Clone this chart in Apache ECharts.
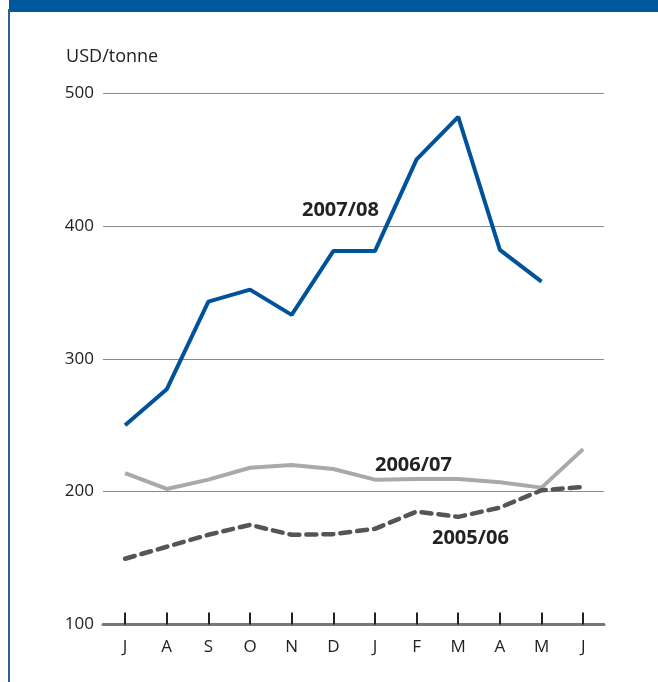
<!DOCTYPE html>
<html>
<head>
<meta charset="utf-8">
<script src="https://cdn.jsdelivr.net/npm/echarts@6/dist/echarts.min.js"></script>
<style>
  html, body { margin: 0; padding: 0; background: #fff; }
  #chart { width: 658px; height: 682px; }
</style>
</head>
<body>
<div id="chart"></div>
<script>
// months July..June
const months = ['J', 'A', 'S', 'O', 'N', 'D', 'J', 'F', 'M', 'A', 'M', 'J']
const s0708 = [250, 277, 343, 352, 333, 381, 381, 450, 482, 382, 358, null]
const s0607 = [214, 202, 209, 218, 220, 217, 209, 209.5, 209.5, 207, 203, 232]
const s0506 = [149.5, 158.5, 167.5, 175, 167.5, 168, 172, 185, 181, 188, 201, 203.5]
const yTicks = [100, 200, 300, 400, 500]

const toPairs = arr => arr.map((v, i) => [i, v])
const idx = months.map((m, i) => i)

const chartDom = document.getElementById('chart')
const myChart = echarts.init(chartDom)
const font = 'Open Sans'

const option = {
  animation: false,
  textStyle: { fontFamily: font },
  grid: { left: 103, right: 54, top: 93, bottom: 57.5 },
  xAxis: {
    type: 'value',
    min: -0.53,
    max: 11.5,
    splitLine: { show: false },
    axisLine: { show: true, onZero: false, lineStyle: { color: '#777', width: 3 } },
    axisTick: { show: true, inside: true, length: 12, customValues: idx, lineStyle: { color: '#222', width: 2 } },
    axisLabel: {
      customValues: idx,
      formatter: v => months[v],
      color: '#222', fontSize: 17, margin: 14, fontFamily: font
    }
  },
  yAxis: {
    type: 'value',
    min: 100,
    max: 500,
    interval: 100,
    name: 'USD/tonne',
    nameLocation: 'end',
    nameGap: 27,
    nameTextStyle: { color: '#222', fontSize: 18, align: 'left', padding: [0, 0, 0, -59], fontFamily: font },
    axisLine: { show: false },
    axisTick: { show: false },
    axisLabel: { color: '#222', fontSize: 17, margin: 9, fontFamily: font,
      formatter: v => yTicks.includes(v) ? String(v) : '' },
    splitLine: { show: true, lineStyle: { color: '#8a8a8a', width: 1 } }
  },
  series: [
    {
      name: '2005/06', type: 'line', data: toPairs(s0506), symbol: 'none',
      lineStyle: { color: '#555', width: 4.5, type: [10, 7], cap: 'round' }, z: 3
    },
    {
      name: '2006/07', type: 'line', data: toPairs(s0607), symbol: 'none',
      lineStyle: { color: '#a9a9a9', width: 4 }, z: 2
    },
    {
      name: '2007/08', type: 'line', data: toPairs(s0708), symbol: 'none',
      lineStyle: { color: '#00529b', width: 4 }, z: 4
    }
  ],
  graphic: [
    { type: 'rect', left: 9, top: 0, shape: { width: 649, height: 12 }, style: { fill: '#00579b' } },
    { type: 'rect', left: 8, top: 9, shape: { width: 2, height: 673 }, style: { fill: '#2a5f9a' } },
    { type: 'text', left: 302, top: 200, style: { text: '2007/08', font: 'bold 20px "Open Sans"', fill: '#222' } },
    { type: 'text', left: 375, top: 455, style: { text: '2006/07', font: 'bold 20px "Open Sans"', fill: '#222' } },
    { type: 'text', left: 432, top: 528, style: { text: '2005/06', font: 'bold 20px "Open Sans"', fill: '#222' } }
  ]
}
myChart.setOption(option)
</script>
</body>
</html>
